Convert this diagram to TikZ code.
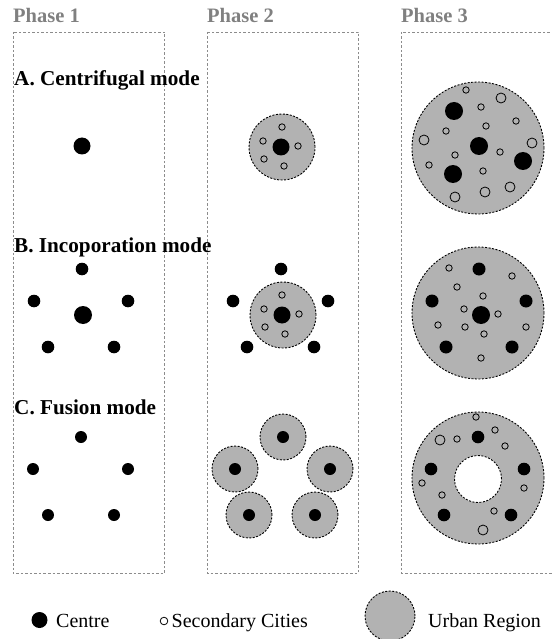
\documentclass[tikz,border=0pt]{standalone}
\usepackage{fontspec}
\setmainfont{Liberation Serif}
\usetikzlibrary{positioning}

\begin{document}
\begin{tikzpicture}[
        x=1pt, y=-1pt,
        every node/.style={font=\fontsize{20}{24}\selectfont, inner sep=0pt, anchor=base west},
        phase/.style={font=\fontsize{20.5}{24}\selectfont\bfseries, text=black!50},
        mode/.style={font=\fontsize{21.2}{24}\selectfont\bfseries},
        frame/.style={draw=black!45, line width=0.6pt, dash pattern=on 2.5pt off 2pt},
        region/.style={fill=black!30, draw=black, line width=0.9pt, dash pattern=on 2pt off 1.5pt},
        hole/.style={fill=white, draw=black, line width=0.9pt, dash pattern=on 2pt off 1.5pt},
        centre/.style={fill=black},
        city/.style={draw=black, line width=0.8pt}
    ]
        \useasboundingbox (0,0) rectangle (551,639);

        % phase frames
        \draw[frame] (13,32) rectangle (164.5,573);
        \draw[frame] (207,32) rectangle (358,573);
        \draw[frame] (401.5,32) rectangle (560,573);
        \node[phase] (ph1) at (13,23) {Phase 1};
        \node[phase] (ph2) at (207,23) {Phase 2};
        \node[phase] (ph3) at (401,23) {Phase 3};

        % A. centrifugal
        \node[mode] (modeA) at (14,86) {A. Centrifugal mode};
        \fill[centre] (82,146) circle (8.5pt);
        \draw[region] (282,147) circle (33pt);
        \fill[centre] (281,147) circle (8.5pt);
        \foreach \p in {(282,127),(263,141),(298,146),(264,159),(284,166)}
            \draw[city] \p circle (3.2pt);
        \draw[region] (478,148) circle (66pt);
        \foreach \p in {(454,111),(479,146),(523,161),(453,174)}
            \fill[centre] \p circle (9pt);
        \foreach \p in {(466,90),(481,107),(516,121),(446,131),(486,126),(500,152),(455,155),(429,165),(483,171)}
            \draw[city] \p circle (3.2pt);
        \foreach \p in {(501,98),(424,140),(532,143),(510,187),(485,192),(455,197)}
            \draw[city] \p circle (5pt);

        % B. incoporation
        \node[mode] (modeB) at (14,252) {B. Incoporation mode};
        \fill[centre] (83,315) circle (9pt);
        \foreach \p in {(82,269),(34,301),(128,301),(48,347),(114,347)}
            \fill[centre] \p circle (6.3pt);
        \foreach \p in {(281,269),(233,301),(328,301),(247,347),(314,347)}
            \fill[centre] \p circle (6.3pt);
        \draw[region] (283,315) circle (33pt);
        \fill[centre] (282,315) circle (8.5pt);
        \foreach \p in {(282,295),(264,309),(299,314),(265,327),(285,334)}
            \draw[city] \p circle (3.2pt);
        \draw[region] (478,313) circle (66pt);
        \fill[centre] (481,315) circle (9pt);
        \foreach \p in {(479,269),(432,301),(526,301),(446,347),(512,347)}
            \fill[centre] \p circle (6.5pt);
        \foreach \p in {(449,268),(512,276),(457,287),(483,296),(464,309),(498,314),(438,325),(465,327),(484,334),(526,327),(481,358)}
            \draw[city] \p circle (3.2pt);

        % C. fusion
        \node[mode] (modeC) at (14,414) {C. Fusion mode};
        \foreach \p in {(81,437),(33,469),(128,469),(48,515),(114,515)}
            \fill[centre] \p circle (6pt);
        \foreach \p in {(283,437),(235,469),(330,469),(249,515),(315,515)} {
            \draw[region] \p circle (23pt);
            \fill[centre] \p circle (6pt);
        }
        \draw[region] (478,478) circle (66pt);
        \draw[hole] (478,479) circle (23.5pt);
        \foreach \p in {(478,437),(431,469),(524,469),(444,515),(511,515)}
            \fill[centre] \p circle (6.3pt);
        \foreach \p in {(476,417),(495,430),(457,439),(505,446),(422,483),(524,488),(442,495),(494,511)}
            \draw[city] \p circle (3.2pt);
        \foreach \p in {(440,440),(483,530)}
            \draw[city] \p circle (5pt);

        % legend
        \fill[centre] (39.5,620) circle (8pt);
        \node (lgCentre) at (56,627) {Centre};
        \draw[city] (164,621) circle (3.8pt);
        \node (lgCity) at (171.5,627) {Secondary Cities};
        \draw[region] (390,616) circle (25pt);
        \node (lgRegion) at (428,627) {Urban Region};
    \end{tikzpicture}
\end{document}
